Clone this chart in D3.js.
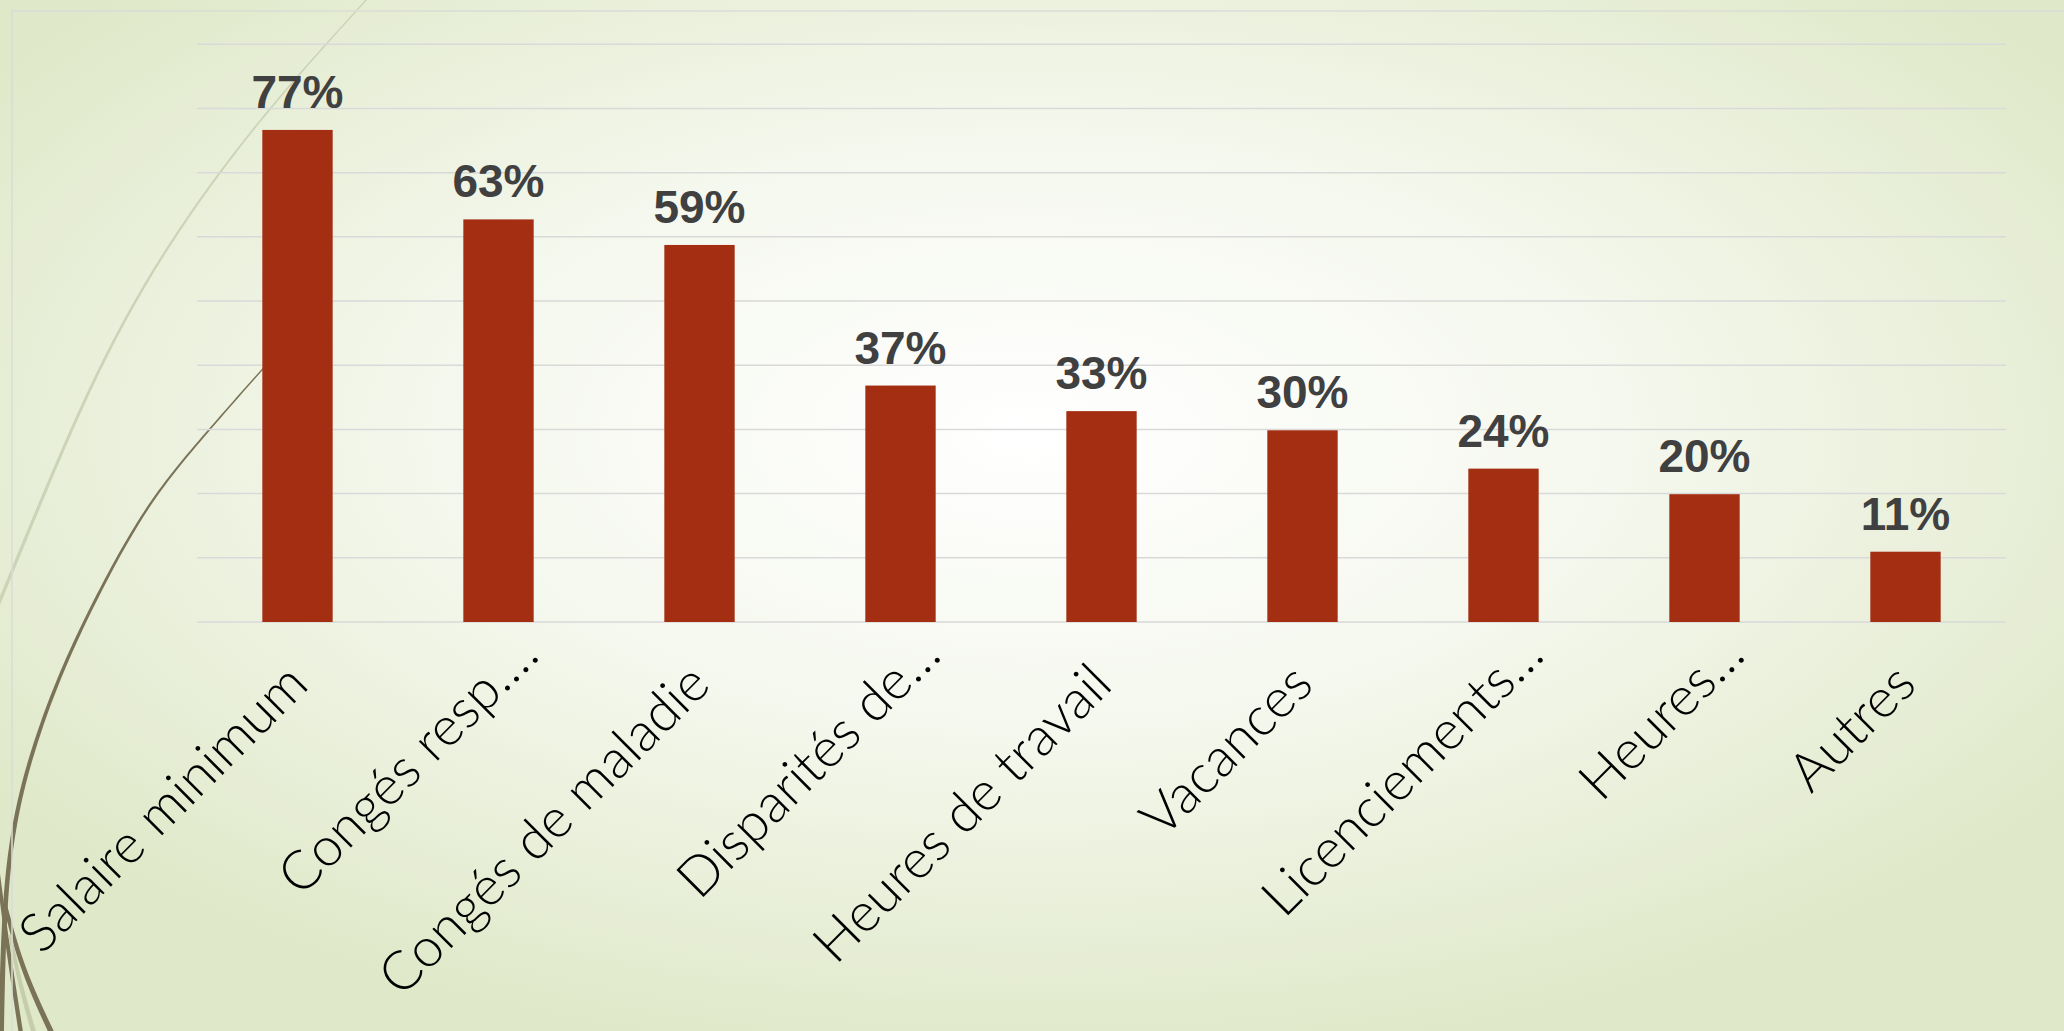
<!DOCTYPE html>
<html>
<head>
<meta charset="utf-8">
<script src="https://cdn.jsdelivr.net/npm/d3@7"></script>
<style>
  html, body { margin: 0; padding: 0; overflow: hidden; background: #eef2e2; }
  svg { display: block; }
</style>
</head>
<body>
<script>
// ---- data ----
const categories = ["Salaire minimum", "Congés resp.…", "Congés de maladie", "Disparités de…", "Heures de travail", "Vacances", "Licenciements…", "Heures…", "Autres"];
const values = [77, 63, 59, 37, 33, 30, 24, 20, 11];
const valueLabels = ["77%", "63%", "59%", "37%", "33%", "30%", "24%", "20%", "11%"];
const gridCount = 9;      // number of gridline intervals
const yMax = 90.4;        // axis maximum (percent)

// ---- layout ----
const W = 2064, H = 1031;
const plot = { left: 197, right: 2006, top: 44.3, bottom: 622 };

const svg = d3.select("body").append("svg").attr("width", W).attr("height", H);
const defs = svg.append("defs");
const grad = defs.append("radialGradient").attr("id", "bg")
  .attr("cx", 0.5).attr("cy", 0.42).attr("r", 0.62);
grad.append("stop").attr("offset", 0).attr("stop-color", "#ffffff");
grad.append("stop").attr("offset", 0.45).attr("stop-color", "#f5f8ee");
grad.append("stop").attr("offset", 1).attr("stop-color", "#dfe8c8");
svg.append("rect").attr("width", W).attr("height", H).attr("fill", "url(#bg)");

// ---- decorative theme curves (tapered strokes) ----
const deco = svg.append("g");
const basis = d3.line().curve(d3.curveBasis);
function tapered(pts, w0, w1, color) {
  const tmp = deco.append("path").attr("d", basis(pts)).attr("fill", "none");
  const node = tmp.node(), L = node.getTotalLength(), N = 120;
  const left = [], right = [];
  for (let i = 0; i <= N; i++) {
    const s = L * i / N;
    const p = node.getPointAtLength(s);
    const q = node.getPointAtLength(Math.min(L, s + 0.5));
    const r = node.getPointAtLength(Math.max(0, s - 0.5));
    let dx = q.x - r.x, dy = q.y - r.y; const len = Math.hypot(dx, dy) || 1;
    dx /= len; dy /= len;
    const w = (w0 + (w1 - w0) * (i / N)) / 2;
    left.push([p.x - dy * w, p.y + dx * w]);
    right.push([p.x + dy * w, p.y - dx * w]);
  }
  tmp.remove();
  deco.append("path").attr("d", "M" + left.concat(right.reverse()).join("L") + "Z").attr("fill", color);
}
tapered([[368, -2], [368, -2], [257, 120], [163, 250], [100, 364], [50, 479], [13, 569], [-6, 615], [-6, 615]], 1.3, 3.5, "#cdd3b6");
tapered([[280, 350], [280, 350], [262, 369.5], [207, 432], [150, 499], [100, 589], [60, 673], [33, 748], [17, 808], [7, 872], [3, 947], [1, 1040], [1, 1040]], 1.2, 5.5, "#7a7357");
tapered([[-2, 872], [-2, 872], [8, 950], [22, 1040], [22, 1040]], 3.5, 4.5, "#7a7357");
tapered([[5, 905], [5, 905], [22, 970], [55, 1040], [55, 1040]], 4, 5.5, "#7a7357");
tapered([[10, 935], [10, 935], [20, 985], [36, 1040], [36, 1040]], 3.5, 5, "#c6cdab");

// outer frame
svg.append("rect").attr("x", 12).attr("y", 11).attr("width", W + 50).attr("height", H + 50)
  .attr("fill", "none").attr("stroke", "#d9dbd6").attr("stroke-width", 1.5);

// ---- scales ----
const x = d3.scaleBand().domain(categories).range([plot.left, plot.right])
  .paddingInner(0.65).paddingOuter(0.325);
const y = d3.scaleLinear().domain([0, yMax]).range([plot.bottom, plot.top]);
const gridValues = d3.range(gridCount + 1).map(i => i * yMax / gridCount);

// gridlines
svg.append("g").selectAll("line").data(gridValues).join("line")
  .attr("x1", plot.left).attr("x2", plot.right)
  .attr("y1", d => y(d)).attr("y2", d => y(d))
  .attr("stroke", "#d9d9d9").attr("stroke-width", 1.5);

// bars
svg.append("g").selectAll("rect").data(values).join("rect")
  .attr("x", (d, i) => x(categories[i]))
  .attr("y", d => y(d))
  .attr("width", x.bandwidth())
  .attr("height", d => y(0) - y(d))
  .attr("fill", "#a32e12");

// value labels
svg.append("g").selectAll("text").data(values).join("text")
  .attr("x", (d, i) => x(categories[i]) + x.bandwidth() / 2)
  .attr("y", d => y(d) - 22)
  .attr("text-anchor", "middle")
  .attr("font-family", "'Liberation Sans', Arial, sans-serif")
  .attr("font-weight", "bold")
  .attr("font-size", 46)
  .attr("fill", "#404040")
  .text((d, i) => valueLabels[i]);

// category labels (rotated)
const catFont = "Lato, 'Open Sans', sans-serif";
const probe = svg.append("text").attr("font-family", catFont).attr("font-weight", 300)
  .attr("font-size", 50).text(categories[0]);
const probeW = probe.node().getComputedTextLength();
probe.remove();
const catSize = 50 * 380 / probeW;

svg.append("g").selectAll("text").data(categories).join("text")
  .attr("transform", d => `translate(${x(d) + x.bandwidth() / 2 + 13},687) rotate(-45)`)
  .attr("x", d => d.endsWith("…") ? 42 : 0)
  .attr("text-anchor", "end")
  .attr("font-family", catFont)
  .attr("font-weight", 300)
  .attr("font-size", catSize)
  .attr("fill", "#000000")
  .text(d => d);
</script>
</body>
</html>
